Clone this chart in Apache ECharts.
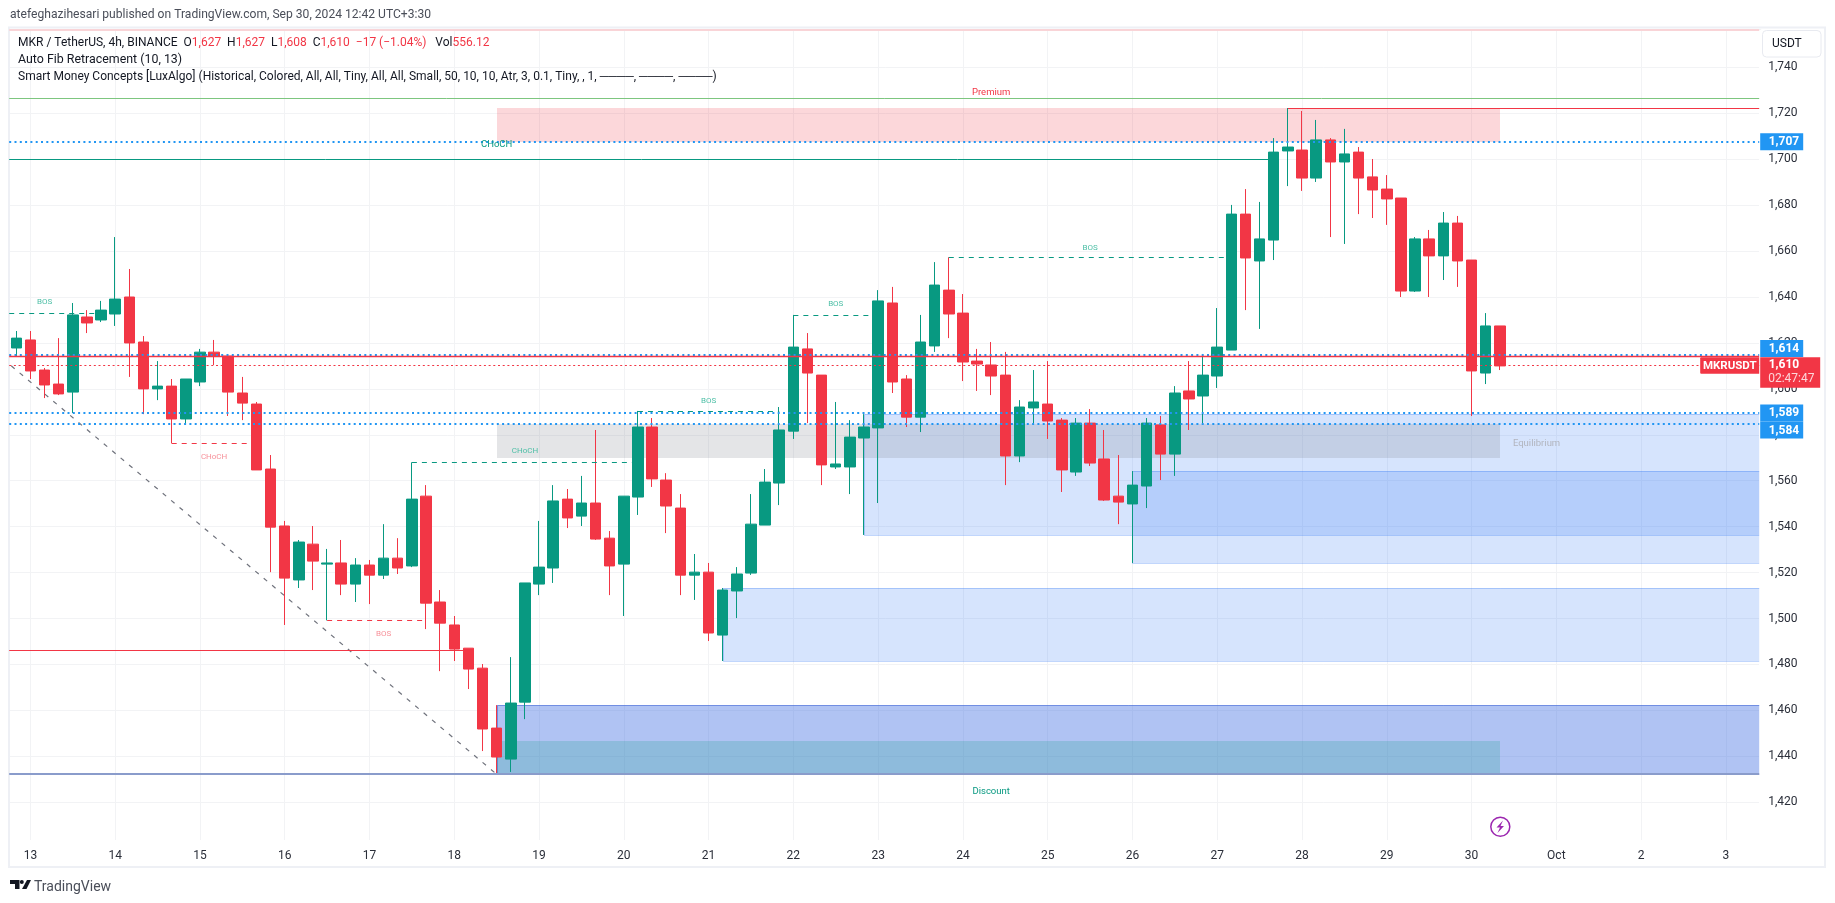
<!DOCTYPE html>
<html>
<head>
<meta charset="utf-8">
<title>MKR / TetherUS</title>
<script src="https://cdn.jsdelivr.net/npm/echarts@6/dist/echarts.min.js"></script>
<style>
html,body{margin:0;padding:0;background:#fff;}
#chart{width:1835px;height:903px;}
</style>
</head>
<body>
<div id="chart"></div>
<script>
// day labels under the chart, one per 6 candles (4h bars)
var dayLabels = ['13','14','15','16','17','18','19','20','21','22','23','24','25','26','27','28','29','30','Oct','2','3'];

// candles, oldest first
var opens = [1617.8,1621.3,1608.2,1602.1,1598.6,1631.3,1630,1632.6,1640,1620.4,1600,1601.2,1586.9,1603,1616,1614.3,1598.2,1593.4,1565.1,1540.3,1516.8,1532.4,1523.7,1524.2,1515,1523.3,1518.9,1526.3,1522.9,1553.3,1507.2,1497.2,1487.1,1478.4,1452.3,1438.8,1463.6,1515,1522,1552,1544.6,1550.3,1535,1523.7,1552.9,1583.4,1560.3,1548.1,1518.9,1520.2,1492.8,1512,1519.8,1540.7,1559,1581.6,1617.4,1606,1566,1566,1578.6,1583,1637.4,1604.3,1587.7,1618.7,1643,1633,1612.1,1610.4,1606,1570.8,1591.7,1593.4,1586.4,1563.8,1585.1,1569.5,1553.3,1549.9,1557.7,1584.3,1571.6,1599.1,1596.9,1605.6,1616.9,1676.1,1655.7,1664.8,1703.6,1704,1691.8,1708.4,1698.8,1703.1,1692.3,1687,1683.1,1642.6,1665.3,1657.9,1672.2,1656.1,1606.9,1627.4];
var closes = [1622.1,1607.8,1601.7,1597.8,1632.2,1628.7,1634.3,1639.1,1620,1600,1601.2,1586.9,1604.3,1616,1614.3,1598.6,1593.8,1564.7,1539.8,1517.6,1533.3,1525,1524.2,1515,1523.3,1518.9,1526.3,1522,1552,1506.7,1498,1486.7,1478,1451.9,1439.7,1463.2,1515.5,1522.4,1551.2,1543.8,1550.3,1534.6,1522.9,1553.3,1583.4,1560.8,1549,1518.9,1520.2,1493.7,1512.4,1519.4,1541.1,1559.4,1582.1,1618.2,1606.9,1566.9,1567.3,1579,1583.4,1638.3,1603,1587.7,1620.4,1645.2,1632.6,1611.7,1610.8,1605.6,1570.8,1592.1,1594.3,1586,1564.7,1585.1,1567.7,1551.6,1550.7,1558.1,1585.1,1571.6,1598.2,1595.6,1606,1618.2,1676.1,1657,1665.3,1703.1,1705.3,1691.8,1708.4,1698.8,1702.3,1691.8,1686.6,1682.7,1642.6,1665.3,1657.9,1672.2,1655.7,1607.8,1627.4,1610];
var lows = [1614.3,1604.3,1596,1597.3,1589.5,1624.3,1629.1,1627.4,1605.2,1589,1595.1,1576.3,1584.7,1601.2,1610.4,1588.2,1586.4,1564.7,1520.2,1497.2,1513.3,1512.4,1499.2,1510.2,1507.2,1506.3,1517.2,1519.4,1522.4,1495.4,1477.1,1481.5,1469.3,1442.3,1432.3,1433.2,1456.2,1510.2,1515.5,1539.4,1540.3,1534.2,1510.2,1501.1,1545.1,1557.3,1537.2,1510.2,1508.1,1490.2,1481.5,1500.2,1519,1540.7,1549.4,1578.2,1585.1,1558.1,1565.1,1554.2,1536.4,1550.3,1598.2,1583.4,1581.2,1616.1,1622.1,1603.4,1599.1,1597.3,1558.1,1568.1,1584.3,1578.2,1555.1,1562.1,1566.4,1551.2,1541.1,1524.2,1548.1,1560.3,1562.1,1582.1,1584.3,1600.4,1616.9,1634.3,1626.1,1656.1,1688.3,1686.2,1690.1,1666.1,1663.1,1676.1,1674.4,1671.4,1640,1642.2,1640,1647.4,1644.4,1588.2,1602.1,1608.2];
var highs = [1625.2,1625.2,1609.1,1622.1,1637.4,1634.3,1638.3,1666.1,1652.2,1623,1612.1,1604.3,1604.3,1617.4,1621.3,1615.2,1605.2,1594.3,1571.2,1542.5,1534.2,1540.3,1530.3,1534.2,1526.3,1525.5,1541.1,1535,1568,1558.1,1512.4,1501.1,1487.1,1480.2,1462.3,1483.2,1515.5,1542.5,1558.1,1556.4,1562.1,1582.1,1538.1,1553.3,1590.4,1587.3,1563.3,1554.2,1528.1,1524.2,1513.3,1522.4,1554.2,1565.1,1592.1,1632.2,1624.3,1606,1594.3,1586.4,1589,1643,1644.4,1606,1632.2,1655.2,1657.3,1641.3,1617.4,1620.4,1616.1,1595.1,1608.2,1612.1,1587.3,1587.3,1591.2,1582.1,1571.2,1564.2,1587.3,1588.2,1601.2,1612.1,1615.2,1635.2,1680.1,1687,1681.4,1709.2,1722.3,1721,1717.1,1709.2,1713.2,1705.3,1700.1,1693.1,1683.1,1666.1,1669.2,1677,1675.3,1656.1,1633,1627.4];

// price axis
var priceMin = 1400;
var priceMax = 1756.7;
var priceStep = 20;

// zones: first candle, last candle (null = right edge), top price, bottom price
var premiumZone = [[33,104,1722.2,1707.6]];
var equilibriumZone = [[33,104,1584.7,1569.9]];
var demandZones = [[59,null,1589,1536.4],[78,null,1564.2,1524.2],[49,null,1513.1,1481.6]];
var discountZone = [[33,null,1462.2,1432.2]];
var discountInner = [[33,104,1446.7,1432.2]];

// levels: first candle (null = left edge), last candle (null = right edge), price
var topFibLine = [[null,null,1756.2]];
var premiumLine = [[null,null,1726.5]];
var swingHighLine = [[89,null,1722.2]];
var chochLine = [[null,88,1700]];
var priceLevel = [[null,null,1614.3]];
var redLevels = [[null,31,1486.2]];
var lastPriceLine = [[null,null,1610.2]];
var discountLine = [[null,null,1432.2]];
var blueDotLines = [[null,null,1707.6],[null,null,1614.6],[null,null,1589.5],[null,null,1584.7]];
var greenDashes = [[null,5,1632.9],[27,43,1568],[43,53,1590.1],[54,60,1632],[65,85,1657.3]];
var redDashes = [[10,16,1576.3],[21,28,1499.2]];

// fib trend line: candle, price
var trendLine = [[-1,1608.2],[33,1432.2]];

// small notes on the chart: candle, price, text
var greenNotes = [[1,1638.6,'BOS'],[35,1573.7,'CHoCH'],[48,1595.5,'BOS'],[57,1637.8,'BOS'],[75,1662.2,'BOS']];
var redNotes = [[13,1571.1,'CHoCH'],[25,1494.1,'BOS']];
var bigNotes = [[33,1706.8,'CHoCH','#089981'],[68,1729.7,'Premium','#f23645'],[68,1425.4,'Discount','#089981'],[106.6,1577,'Equilibrium','#b2b5be']];

// price tags right of the axis
var blueTags = [[1707.6,'1,707'],[1614.3,'1,614'],[1589.5,'1,589'],[1584.7,'1,584']];
var lastTag = [1610.2,'1,610','02:47:47','MKRUSDT'];
var tagShift = {'1,614':-7.5,'1,584':6};

var GREEN = '#089981';
var RED = '#f23645';

// candle i sits in slot i+1, slot 0 is the one before 13
function slot(i){return i+1;}

var categories = ['12 20:00'];
dayLabels.forEach(function(d){
    [0,4,8,12,16,20].forEach(function(h){categories.push(d+' '+h+':00');});
});
categories = categories.slice(0,124);

var candleData = opens.map(function(o,i){return [o,closes[i],lows[i],highs[i]];});

function plotRight(g){return g.x+g.width-2;} // price scale begins here

// keep thin lines on whole pixels, they get blurred otherwise
function crisp(y,width){return width%2===0 ? Math.round(y) : Math.floor(y)+0.5;}

function zoneSeries(name,rows,fill,stroke){
    return {
        type:'custom',name:name,z:1,silent:true,
        data:rows.map(function(r){return [slot(r[0]),r[2]];}),
        renderItem:function(p,api){
            var r = rows[p.dataIndex],g = p.coordSys;
            var x0 = Math.round(api.coord([slot(r[0]),r[2]])[0]),y0 = Math.round(api.coord([slot(r[0]),r[2]])[1]);
            var x1 = r[1]==null ? plotRight(g) : Math.round(api.coord([slot(r[1]),r[2]])[0]);
            var y1 = Math.round(api.coord([slot(r[0]),r[3]])[1]);
            var kids = [{type:'rect',shape:{x:x0,y:y0,width:x1-x0,height:y1-y0},style:{fill:fill}}];
            if(stroke){
                // no edge on the right, the zone runs into the price scale
                kids.push({type:'polyline',shape:{points:[[x1,y0+0.5],[x0+0.5,y0+0.5],[x0+0.5,y1+0.5],[x1,y1+0.5]]},
                    style:{stroke:stroke,lineWidth:1,fill:null}});
            }
            return {type:'group',children:kids};
        }
    };
}

function lineSeries(name,rows,color,width,dash){
    return {
        type:'custom',name:name,z:4,silent:true,
        data:rows.map(function(r){return [r[0]==null?0:slot(r[0]),r[2]];}),
        renderItem:function(p,api){
            var r = rows[p.dataIndex],g = p.coordSys;
            var y = crisp(api.coord([0,r[2]])[1],width);
            var x0 = r[0]==null ? g.x : api.coord([slot(r[0]),r[2]])[0];
            var x1 = r[1]==null ? plotRight(g) : api.coord([slot(r[1]),r[2]])[0];
            return {type:'line',shape:{x1:x0,y1:y,x2:x1,y2:y},
                style:{stroke:color,lineWidth:width,lineDash:dash||null,fill:null}};
        }
    };
}

function noteSeries(name,rows,color,size){
    return {
        type:'custom',name:name,z:5,silent:true,
        data:rows.map(function(r){return [slot(Math.round(r[0])),r[1]];}),
        renderItem:function(p,api){
            var r = rows[p.dataIndex];
            var w = api.size([1,0])[0];
            var c = api.coord([slot(Math.floor(r[0])),r[1]]);
            return {type:'text',style:{x:c[0]+(r[0]-Math.floor(r[0]))*w,y:c[1]+1.5,text:r[2],
                fill:r[3]||color,font:size+'px Roboto',align:'center',verticalAlign:'middle'}};
        }
    };
}

var trendSeries = {
    type:'custom',name:'trend',z:3,silent:true,
    data:[[slot(trendLine[0][0]),trendLine[0][1]]],
    renderItem:function(p,api){
        var a = api.coord([slot(trendLine[0][0]),trendLine[0][1]]);
        var b = api.coord([slot(trendLine[1][0]),trendLine[1][1]]);
        // the line comes in from outside the left edge
        var back = a[0]-p.coordSys.x-2;
        var k = (b[1]-a[1])/(b[0]-a[0]);
        return {type:'line',shape:{x1:a[0]-back,y1:a[1]-back*k,x2:b[0],y2:b[1]},
            style:{stroke:'#6f727c',lineWidth:1.2,lineDash:[4.5,6.5],fill:null}};
    }
};

var blueTagSeries = {
    type:'custom',name:'blueTags',z:8,silent:true,
    data:blueTags.map(function(t){return [0,t[0]];}),
    renderItem:function(p,api){
        var t = blueTags[p.dataIndex],g = p.coordSys;
        var y = api.coord([0,t[0]])[1]+(tagShift[t[1]]||0);
        var x = g.x+g.width-1;
        return {type:'group',children:[
            {type:'rect',shape:{x:x,y:y-8.5,width:43,height:17},style:{fill:'#2196f3'}},
            {type:'text',style:{x:x+8.5,y:y+0.5,text:t[1],fill:'#fff',font:'bold 12px Roboto',verticalAlign:'middle'}}
        ]};
    }
};

var lastTagSeries = {
    type:'custom',name:'lastTag',z:9,silent:true,
    data:[[0,lastTag[0]]],
    renderItem:function(p,api){
        var g = p.coordSys;
        var y = api.coord([0,lastTag[0]])[1];
        var x = g.x+g.width-1;
        return {type:'group',children:[
            {type:'rect',shape:{x:x,y:y-8.3,width:60,height:30.7},style:{fill:RED}},
            {type:'text',style:{x:x+8.5,y:y,text:lastTag[1],fill:'#fff',font:'bold 12px Roboto',verticalAlign:'middle'}},
            {type:'text',style:{x:x+8,y:y+14,text:lastTag[2],fill:'#fcd7da',font:'12px Roboto',verticalAlign:'middle'}},
            {type:'rect',shape:{x:x-60,y:y-8.3,width:59,height:16.7,r:[1,0,0,1]},style:{fill:RED}},
            {type:'text',style:{x:x-30.5,y:y+0.5,text:lastTag[3],fill:'#fff',font:'bold 11.5px Roboto',align:'center',verticalAlign:'middle'}}
        ]};
    }
};

var legendRich = {
    d:{fill:'#131722',font:'12px Roboto'},
    r:{fill:RED,font:'12px Roboto'}
};

var chart = echarts.init(document.getElementById('chart'));
chart.setOption({
    animation:false,
    backgroundColor:'#fff',
    grid:{left:9.2,top:29,width:1752,height:819.2,containLabel:false},
    xAxis:{
        type:'category',data:categories,boundaryGap:true,
        axisLine:{show:false},axisTick:{show:false},
        axisLabel:{
            margin:2,color:'#2a2e39',fontFamily:'Roboto',fontSize:12,
            interval:function(i){return (i-1)%6===0;},
            formatter:function(v){return v.split(' ')[0];}
        },
        splitLine:{show:true,alignWithLabel:true,interval:function(i){return (i-1)%6===0;},lineStyle:{color:'#f2f3f5',width:1}}
    },
    yAxis:{
        type:'value',position:'right',min:priceMin,max:priceMax,interval:priceStep,
        axisLine:{show:false},axisTick:{show:false},
        axisLabel:{
            margin:7,color:'#2a2e39',fontFamily:'Roboto',fontSize:12,showMinLabel:false,showMaxLabel:false,
            formatter:function(v){return Math.round(v).toString().replace(/(\d)(\d{3})$/,'$1,$2');}
        },
        splitLine:{lineStyle:{color:'#f2f3f5',width:1}}
    },
    graphic:[
        // frame and chrome
        {type:'rect',z:1,shape:{x:9,y:27.5,width:1816,height:839.5},style:{fill:null,stroke:'#eef0f5',lineWidth:2}},
        {type:'rect',z:1,shape:{x:10,y:840,width:1750,height:9},style:{fill:'#fff'}},
        {type:'rect',z:1,shape:{x:1759,y:30,width:3,height:819},style:{fill:'#fff'}},
        {type:'text',z:10,style:{x:10,y:14.5,text:'atefeghazihesari published on TradingView.com, Sep 30, 2024 12:42 UTC+3:30',fill:'#4a4e59',font:'12.1px Roboto',verticalAlign:'middle'}},
        {type:'text',z:10,style:{x:18,y:42.5,verticalAlign:'middle',font:'12px Roboto',fill:'#131722',
            text:'{d|MKR / TetherUS, 4h, BINANCE  O}{r|1,627}{d|  H}{r|1,627}{d|  L}{r|1,608}{d|  C}{r|1,610}{r|  −17 (−1.04%)}{d|   Vol}{r|556.12}',rich:legendRich}},
        {type:'text',z:10,style:{x:18,y:60,text:'Auto Fib Retracement (10, 13)',fill:'#131722',font:'12.4px Roboto',verticalAlign:'middle'}},
        {type:'text',z:10,style:{x:18,y:77,text:'Smart Money Concepts [LuxAlgo] (Historical, Colored, All, All, Tiny, All, All, Small, 50, 10, 10, Atr, 3, 0.1, Tiny, , 1, ────, ────, ────)',fill:'#131722',font:'12px Roboto',verticalAlign:'middle'}},
        // currency button
        {type:'rect',z:10,shape:{x:1762.5,y:30.5,width:58.5,height:26.5,r:4},style:{fill:'#fff',stroke:'#e8eaf0',lineWidth:1}},
        {type:'text',z:11,style:{x:1772,y:44,text:'USDT',fill:'#131722',font:'12px Roboto',verticalAlign:'middle'}},
        // countdown icon
        {type:'circle',z:10,shape:{cx:1500.3,cy:826.7,r:9.5},style:{fill:'#fff',stroke:'#9c27b0',lineWidth:1.5}},
        {type:'polygon',z:11,shape:{points:[[1503,820.5],[1496.5,827.5],[1500,827.5],[1497.5,833],[1504,826],[1500.5,826]]},style:{fill:'#9c27b0'}},
        // logo
        {type:'polygon',z:10,shape:{points:[[10,880],[19.5,880],[19.5,889],[15,889],[15,884],[10,884]]},style:{fill:'#131722'}},
        {type:'polygon',z:10,shape:{points:[[27,880],[31,880],[26.5,889],[22,889]]},style:{fill:'#131722'}},
        {type:'circle',z:10,shape:{cx:21.8,cy:882,r:2},style:{fill:'#131722'}},
        {type:'text',z:10,style:{x:34,y:887,text:'TradingView',fill:'#4a4e59',font:'14px Roboto',verticalAlign:'middle'}}
    ],
    series:[
        zoneSeries('premium',premiumZone,'rgba(242,54,69,.2)'),
        zoneSeries('demand',demandZones,'rgba(50,120,245,.2)','rgba(50,120,245,.3)'),
        zoneSeries('discount',discountZone,'rgba(58,105,225,.4)','rgba(50,90,210,.5)'),
        zoneSeries('discountInner',discountInner,'rgba(8,153,129,.2)'),
        zoneSeries('equilibrium',equilibriumZone,'rgba(120,123,134,.2)'),
        {
            type:'candlestick',name:'MKRUSDT',z:2,barWidth:11,
            data:candleData,
            itemStyle:{color:GREEN,color0:RED,borderColor:GREEN,borderColor0:RED,borderWidth:1}
        },
        trendSeries,
        lineSeries('topFib',topFibLine,'#f9d4d7',2),
        lineSeries('premiumLine',premiumLine,'#7dc67f',1),
        lineSeries('swingHigh',swingHighLine,RED,1),
        lineSeries('choch',chochLine,GREEN,1),
        lineSeries('blueDots',blueDotLines,'#2196f3',2,[2,3.3]),
        lineSeries('priceLevel',priceLevel,RED,1.5),
        lineSeries('redLevels',redLevels,RED,1),
        lineSeries('lastPrice',lastPriceLine,RED,1,[2,2.7]),
        lineSeries('discountLine',discountLine,'#8a9ccb',2),
        lineSeries('greenDashes',greenDashes,GREEN,1,[5,5]),
        lineSeries('redDashes',redDashes,RED,1,[5,5]),
        noteSeries('greenNotes',greenNotes,'#4dbfa6',8),
        noteSeries('redNotes',redNotes,'#f7919a',8),
        noteSeries('bigNotes',bigNotes,'#089981',9.5),
        blueTagSeries,
        lastTagSeries
    ]
});
</script>
</body>
</html>
